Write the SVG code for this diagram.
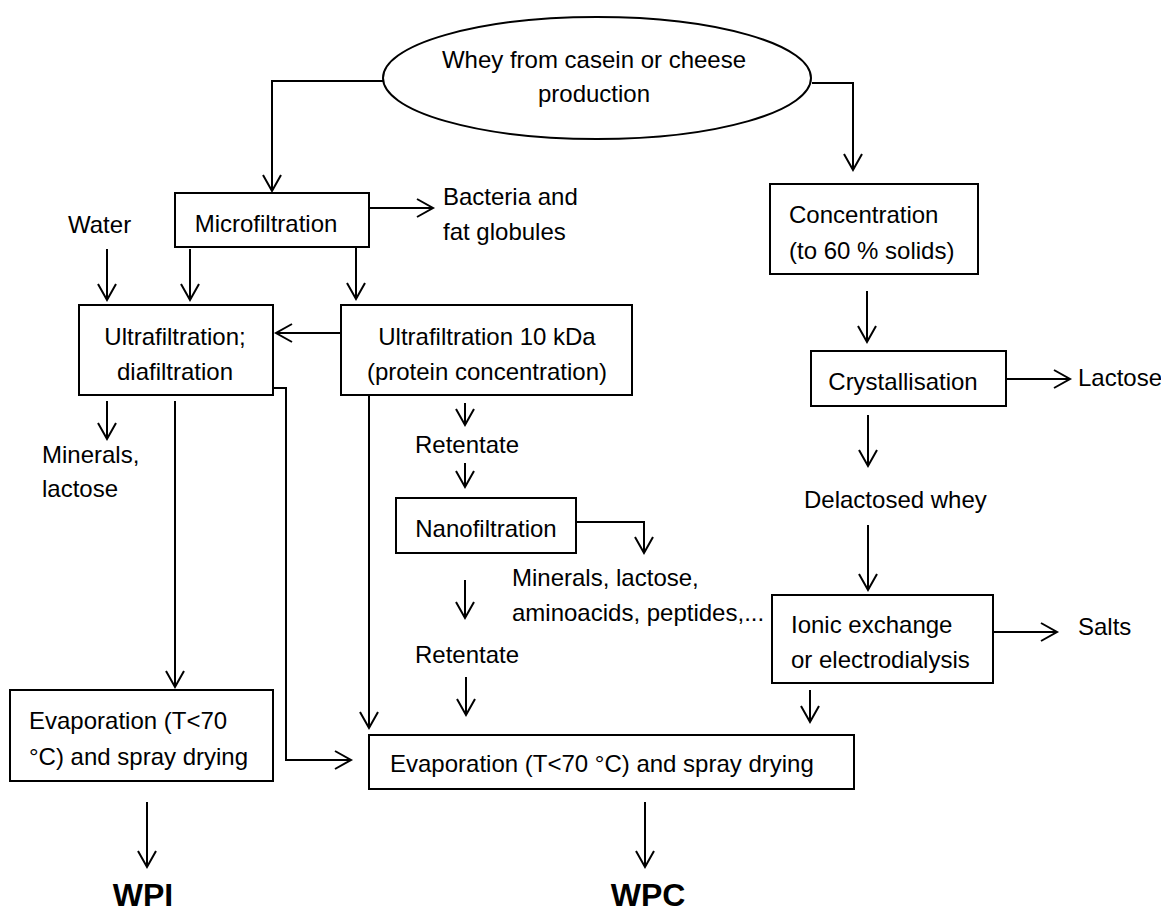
<svg xmlns="http://www.w3.org/2000/svg" width="1161" height="913" viewBox="0 0 1161 913">
<style>
.t{font-family:"Liberation Sans",Arial,sans-serif;font-size:24px;fill:#000}
.m{text-anchor:middle}
.b{font-family:"Liberation Sans",Arial,sans-serif;font-size:32px;font-weight:bold;fill:#000;text-anchor:middle}
.box{fill:#fff;stroke:#000;stroke-width:2}
.c{fill:none;stroke:#000;stroke-width:2;marker-end:url(#ah)}
.l{fill:none;stroke:#000;stroke-width:2}
</style>
<defs>
<marker id="ah" markerUnits="userSpaceOnUse" markerWidth="20" markerHeight="22" viewBox="-18 -11 20 22" refX="0" refY="0" orient="auto" overflow="visible">
<path d="M-16,-9 L0,0 L-16,9" fill="none" stroke="#000" stroke-width="2"/>
</marker>
</defs>
<rect width="1161" height="913" fill="#fff"/>

<g id="connectors">
<path class="c" d="M383,81 H272 V191"/>
<path class="c" d="M812,83 H853 V170"/>
<path class="c" d="M369,208 H433"/>
<path class="c" d="M107,249 V300"/>
<path class="c" d="M190,249 V300"/>
<path class="c" d="M356,247 V299"/>
<path class="c" d="M341,333 H276"/>
<path class="c" d="M107,401 V439"/>
<path class="c" d="M175,401 V687"/>
<path class="c" d="M273,388 H286 V760 H351"/>
<path class="c" d="M369,395 V728"/>
<path class="c" d="M465,403 V425"/>
<path class="c" d="M465,463 V487"/>
<path class="c" d="M576,522 H644 V553"/>
<path class="c" d="M465,580 V618"/>
<path class="c" d="M466,677 V715"/>
<path class="c" d="M867,291 V342"/>
<path class="c" d="M1006,379 H1070"/>
<path class="c" d="M868,415 V466"/>
<path class="c" d="M868,525 V590"/>
<path class="c" d="M993,632 H1057"/>
<path class="c" d="M810,690 V722"/>
<path class="c" d="M147,802 V867"/>
<path class="c" d="M645,802 V867"/>
</g>

<g id="whey">
<ellipse class="box" cx="597" cy="78" rx="214" ry="61"/>
<text class="t m" x="594" y="68">Whey from casein or cheese</text>
<text class="t m" x="594" y="102">production</text>
</g>

<g id="microfiltration">
<rect class="box" x="175" y="193" width="194" height="54"/>
<text class="t m" x="266" y="232">Microfiltration</text>
</g>

<g id="bacteria">
<text class="t" x="443" y="205">Bacteria and</text>
<text class="t" x="443" y="240">fat globules</text>
</g>

<g id="water">
<text class="t" x="68" y="233">Water</text>
</g>

<g id="ufdf">
<rect class="box" x="79" y="305" width="194" height="90"/>
<text class="t m" x="175" y="345">Ultrafiltration;</text>
<text class="t m" x="175" y="380">diafiltration</text>
</g>

<g id="uf10">
<rect class="box" x="341" y="305" width="291" height="90"/>
<text class="t m" x="487" y="345">Ultrafiltration 10 kDa</text>
<text class="t m" x="487" y="380">(protein concentration)</text>
</g>

<g id="minerals1">
<text class="t" x="42" y="463">Minerals,</text>
<text class="t" x="42" y="497">lactose</text>
</g>

<g id="retentate1">
<text class="t" x="415" y="453">Retentate</text>
</g>

<g id="nanofiltration">
<rect class="box" x="396" y="498" width="180" height="55"/>
<text class="t m" x="486" y="537">Nanofiltration</text>
</g>

<g id="minerals2">
<text class="t" x="512" y="586">Minerals, lactose,</text>
<text class="t" x="512" y="621">aminoacids, peptides,...</text>
</g>

<g id="retentate2">
<text class="t" x="415" y="663">Retentate</text>
</g>

<g id="concentration">
<rect class="box" x="770" y="184" width="208" height="90"/>
<text class="t" x="789" y="223">Concentration</text>
<text class="t" x="789" y="259">(to 60 % solids)</text>
</g>

<g id="crystallisation">
<rect class="box" x="811" y="351" width="195" height="55"/>
<text class="t m" x="903" y="390">Crystallisation</text>
</g>

<g id="lactose">
<text class="t" x="1078" y="386">Lactose</text>
</g>

<g id="delactosed">
<text class="t" x="804" y="508">Delactosed whey</text>
</g>

<g id="ionic">
<rect class="box" x="772" y="595" width="221" height="88"/>
<text class="t" x="791" y="633">Ionic exchange</text>
<text class="t" x="791" y="668">or electrodialysis</text>
</g>

<g id="salts">
<text class="t" x="1078" y="635">Salts</text>
</g>

<g id="evap-wpi">
<rect class="box" x="10" y="690" width="263" height="91"/>
<text class="t" x="29" y="729">Evaporation (T&lt;70</text>
<text class="t" x="29" y="765">°C) and spray drying</text>
</g>

<g id="evap-wpc">
<rect class="box" x="369" y="735" width="485" height="54"/>
<text class="t" x="390" y="772">Evaporation (T&lt;70 °C) and spray drying</text>
</g>

<g id="wpi">
<text class="b" x="143" y="906">WPI</text>
</g>

<g id="wpc">
<text class="b" x="648" y="906">WPC</text>
</g>
</svg>
